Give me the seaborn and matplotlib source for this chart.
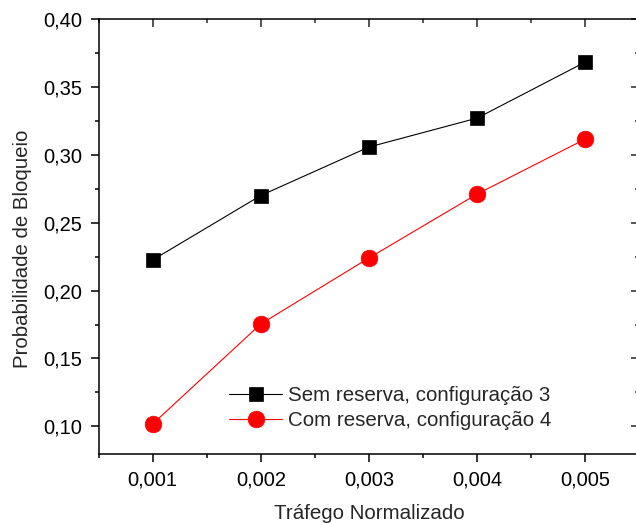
import matplotlib
matplotlib.use("Agg")
import matplotlib.pyplot as plt
import matplotlib.ticker as mticker
import seaborn as sns

# dados
trafego = [0.001, 0.002, 0.003, 0.004, 0.005]
sem_reserva = [0.2225, 0.270, 0.3057, 0.327, 0.3683]
com_reserva = [0.1017, 0.1754, 0.224, 0.2711, 0.3116]
rotulo_sem = "Sem reserva, configuração 3"
rotulo_com = "Com reserva, configuração 4"

sns.set_style("ticks")
plt.rcParams["font.family"] = ["Liberation Sans", "DejaVu Sans"]

fig = plt.figure(figsize=(6.36, 5.23), dpi=100)
ax = fig.add_axes([98.5 / 636, (523 - 453.5) / 523, (639.4 - 98.5) / 636, (453.5 - 19) / 523])

sns.lineplot(x=trafego, y=sem_reserva, ax=ax, color="black", marker="s", markersize=10.5,
             markeredgecolor="black", markeredgewidth=0.5, linewidth=0.8, label=rotulo_sem)
sns.lineplot(x=trafego, y=com_reserva, ax=ax, color="red", marker="o", markersize=12,
             markeredgecolor="red", markeredgewidth=0.5, linewidth=0.8, label=rotulo_com)

ax.set_xlim(0.0005, 0.0055)
ax.set_ylim(0.08, 0.40)
ax.xaxis.set_major_locator(mticker.FixedLocator(trafego))
ax.xaxis.set_minor_locator(mticker.MultipleLocator(0.0005))
ax.yaxis.set_major_locator(mticker.MultipleLocator(0.05))
ax.yaxis.set_minor_locator(mticker.MultipleLocator(0.025))
ax.xaxis.set_major_formatter(mticker.FuncFormatter(lambda v, p: f"{v:.3f}".replace(".", ",")))
ax.yaxis.set_major_formatter(mticker.FuncFormatter(lambda v, p: f"{v:.2f}".replace(".", ",")))

for lado in ["top", "right", "left", "bottom"]:
    ax.spines[lado].set_visible(True)
    ax.spines[lado].set_linewidth(1.1)
    ax.spines[lado].set_color("black")

ax.tick_params(which="both", direction="out", top=False, right=False, color="black", width=1.1,
               labelsize=14.5, labelcolor="black")
ax.tick_params(which="major", length=6)
ax.tick_params(axis="x", which="major", pad=6.5)
ax.tick_params(axis="y", which="major", pad=5.5)
ax.tick_params(which="minor", length=3)

# ticks internos no topo e à direita (estilo Origin)
sec_x = ax.secondary_xaxis("top")
sec_x.xaxis.set_major_locator(mticker.FixedLocator(trafego))
sec_x.xaxis.set_minor_locator(mticker.MultipleLocator(0.0005))
sec_x.tick_params(which="both", direction="in", labeltop=False, width=1.1)
sec_x.tick_params(which="major", length=6)
sec_x.tick_params(which="minor", length=3)
sec_x.spines["top"].set_visible(False)
sec_y = ax.secondary_yaxis("right")
sec_y.yaxis.set_major_locator(mticker.MultipleLocator(0.05))
sec_y.yaxis.set_minor_locator(mticker.MultipleLocator(0.025))
sec_y.tick_params(which="both", direction="in", labelright=False, width=1.1)
sec_y.tick_params(which="major", length=6)
sec_y.tick_params(which="minor", length=3)
sec_y.spines["right"].set_visible(False)

ax.set_xlabel("Tráfego Normalizado", fontsize=14.8, labelpad=10)
ax.set_ylabel("Probabilidade de Bloqueio", fontsize=14.7)
ax.yaxis.set_label_coords(-(98.5 - 13) / 540.9, (453.5 - 249) / 434.5)
ax.yaxis.label.set_verticalalignment("top")

ax.legend(loc="upper left", bbox_to_anchor=((229 - 98.5) / 540.9, (453.5 - 386) / 434.5),
          frameon=False, fontsize=14.8, handlelength=2.6, handletextpad=0.25,
          labelspacing=0.3, borderaxespad=0, borderpad=0)

fig.savefig("out.png", dpi=100)
